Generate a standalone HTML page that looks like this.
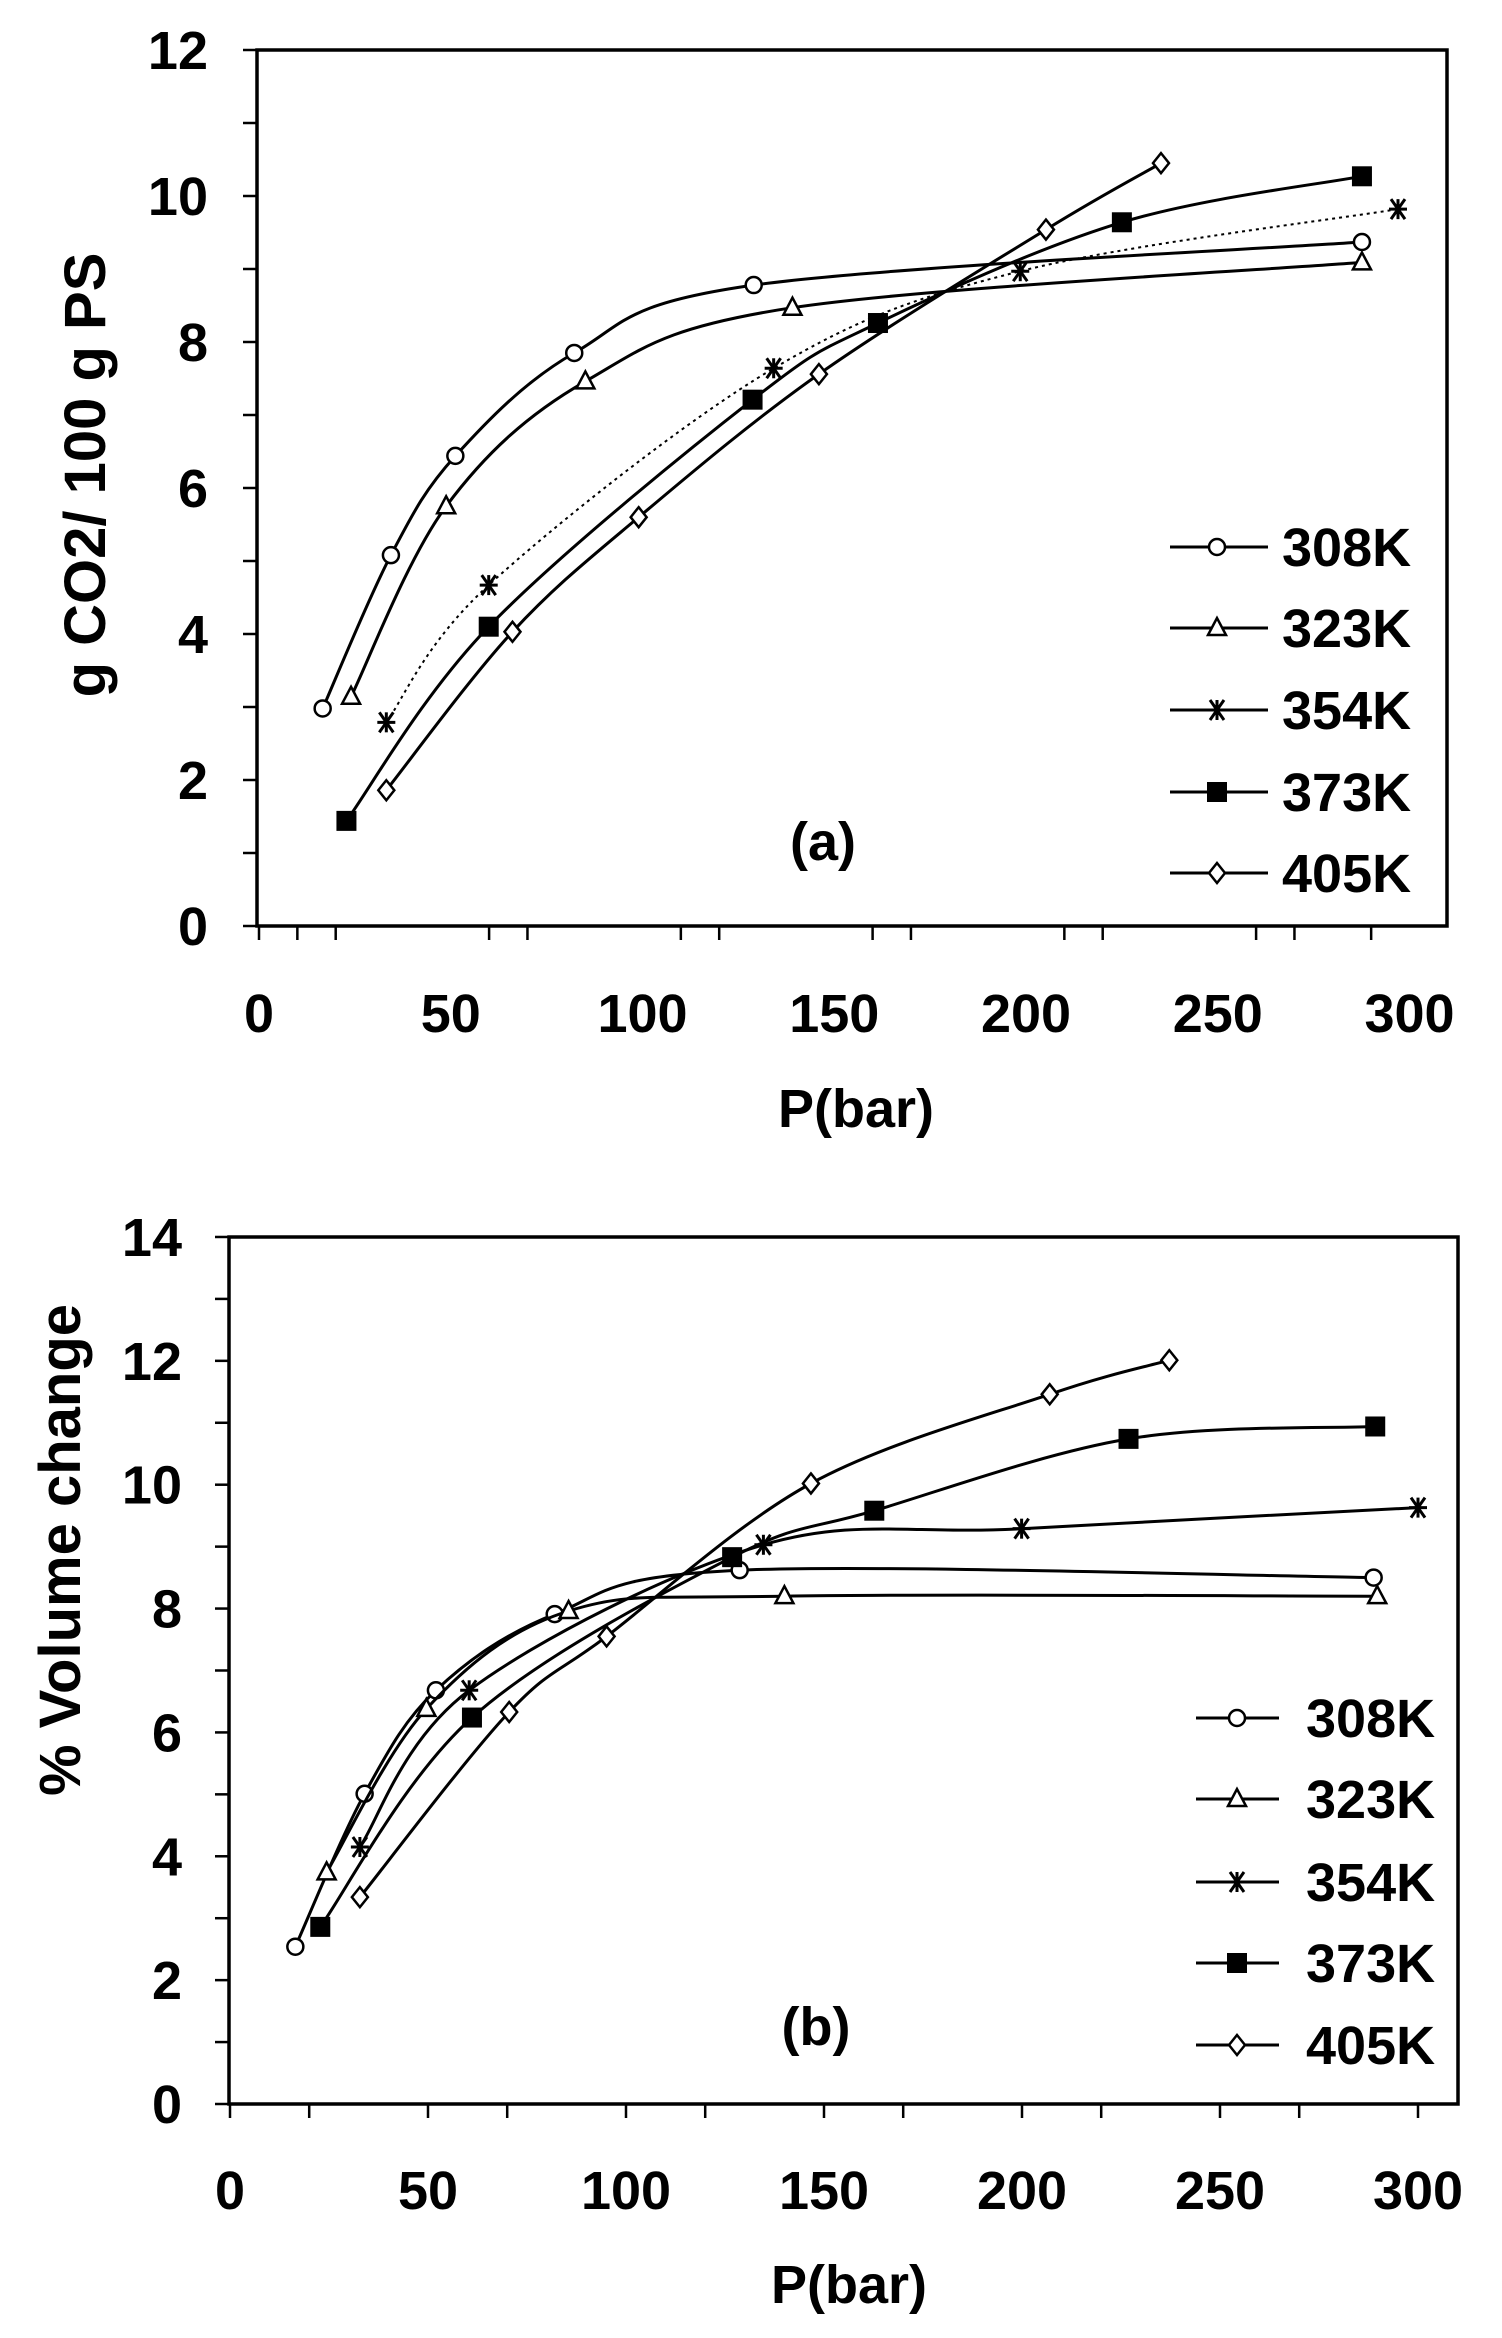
<!DOCTYPE html>
<html><head><meta charset="utf-8"><style>
html,body{margin:0;padding:0;background:#fff;}
svg{display:block;}
text{font-family:"Liberation Sans",Arial,sans-serif;font-weight:bold;fill:#000;}
</style></head><body>
<svg id="s" xmlns="http://www.w3.org/2000/svg" width="1502" height="2338" viewBox="0 0 1502 2338"></svg>
<script>
const S=document.getElementById('s');let out='';
function catmull(pts){let d='M'+pts[0][0].toFixed(1)+','+pts[0][1].toFixed(1);
for(let i=0;i<pts.length-1;i++){const p0=pts[Math.max(0,i-1)],p1=pts[i],p2=pts[i+1],p3=pts[Math.min(pts.length-1,i+2)];
const t=1/6;d+=' C'+(p1[0]+(p2[0]-p0[0])*t).toFixed(1)+','+(p1[1]+(p2[1]-p0[1])*t).toFixed(1)+' '+(p2[0]-(p3[0]-p1[0])*t).toFixed(1)+','+(p2[1]-(p3[1]-p1[1])*t).toFixed(1)+' '+p2[0].toFixed(1)+','+p2[1].toFixed(1);}
return d;}
function marker(type,x,y){const r=8;
if(type=='o')return `<circle cx="${x}" cy="${y}" r="${r}" fill="#fff" stroke="#000" stroke-width="2.5"/>`;
if(type=='t')return `<polygon points="${x},${y-r-2} ${x-r-1},${y+r-1} ${x+r+1},${y+r-1}" fill="#fff" stroke="#000" stroke-width="2.5"/>`;
if(type=='s')return `<rect x="${x-10}" y="${y-10}" width="20" height="20" fill="#000"/>`;
if(type=='d')return `<polygon points="${x},${y-10} ${x+8},${y} ${x},${y+10} ${x-8},${y}" fill="#fff" stroke="#000" stroke-width="2.5"/>`;
if(type=='x')return `<g stroke="#000" stroke-width="3"><line x1="${x-9}" y1="${y}" x2="${x+9}" y2="${y}"/><line x1="${x-7}" y1="${y-10}" x2="${x+7}" y2="${y+10}"/><line x1="${x+7}" y1="${y-10}" x2="${x-7}" y2="${y+10}"/><line x1="${x}" y1="${y-10}" x2="${x}" y2="${y+10}"/></g>`;}
function plot(cfg){
 const X=p=>cfg.x0+p*cfg.xs, Y=v=>cfg.y0-v*cfg.ys;
 out+=`<rect x="${cfg.L}" y="${cfg.T}" width="${cfg.R-cfg.L}" height="${cfg.B-cfg.T}" fill="none" stroke="#000" stroke-width="3.5"/>`;
 for(let v=0;v<=cfg.ymax;v++){const y=Y(v);
  out+=`<line x1="${cfg.L-14}" y1="${y}" x2="${cfg.L}" y2="${y}" stroke="#000" stroke-width="2.5"/>`;
  if(v%2==0)out+=`<text x="${cfg.ylx}" y="${y+19}" font-size="54" text-anchor="end">${v}</text>`;}
 for(const p of cfg.xt){out+=`<line x1="${X(p)}" y1="${cfg.B}" x2="${X(p)}" y2="${cfg.B+14}" stroke="#000" stroke-width="2.5"/>`;}
 for(let p=0;p<=300;p+=50)out+=`<text x="${X(p)}" y="${cfg.xly+19}" font-size="54" text-anchor="middle">${p}</text>`;
 out+=`<text x="${cfg.xlab[0]}" y="${cfg.xlab[1]+19}" font-size="54" text-anchor="middle">P(bar)</text>`;
 out+=`<text transform="translate(${cfg.ylab[0]},${cfg.ylab[1]}) rotate(-90)" font-size="58" text-anchor="middle">${cfg.ylabT}</text>`;
 out+=`<text x="${cfg.lab[0]}" y="${cfg.lab[1]+19}" font-size="54" text-anchor="middle">${cfg.lab[2]}</text>`;
 const types=['o','t','x','s','d'],names=['308K','323K','354K','373K','405K'];
 cfg.series.forEach((s,i)=>{const pts=s.map(q=>[X(q[0]),Y(q[1])]);
  out+=`<path d="${catmull(pts)}" fill="none" stroke="#000" stroke-width="${i==2&&cfg.dot?2:3}" ${i==2&&cfg.dot?'stroke-dasharray="3,4"':''}/>`;
  pts.forEach(p=>out+=marker(types[i],p[0],p[1]));
  const ly=cfg.leg.rows[i];
  out+=`<line x1="${cfg.leg.l1}" y1="${ly}" x2="${cfg.leg.l2}" y2="${ly}" stroke="#000" stroke-width="3"/>`+marker(types[i],cfg.leg.m,ly);
  out+=`<text x="${cfg.leg.t}" y="${ly+19}" font-size="54">${names[i]}</text>`;});
}
plot({L:257,T:50,R:1447,B:926,x0:259,xs:3.835,y0:926,ys:73,ymax:12,ylx:208,xly:1013,
 xt:[0,10,20,60,70,110,120,160,170,210,220,260,270,290],
 xlab:[856,1108],ylab:[105,475],ylabT:'g CO2/ 100 g PS',lab:[823,841,'(a)'],dot:true,
 leg:{l1:1170,l2:1268,m:1217,t:1282,rows:[547,628,710,792,873]},
 series:[
 [[16.6,2.98],[34.4,5.08],[51.2,6.44],[82.2,7.85],[129,8.78],[287.6,9.37]],
 [[24,3.14],[48.8,5.75],[85.1,7.46],[139.1,8.47],[287.6,9.09]],
 [[33.2,2.79],[59.9,4.67],[134.2,7.64],[198.5,8.97],[297,9.82]],
 [[22.8,1.44],[59.9,4.10],[128.7,7.21],[161.4,8.26],[225,9.64],[287.6,10.27]],
 [[33.2,1.86],[66.1,4.03],[99,5.60],[146,7.56],[205.2,9.54],[235.2,10.45]]]});
plot({L:229,T:1237,R:1458,B:2104,x0:230,xs:3.96,y0:2104,ys:61.93,ymax:14,ylx:182,xly:2190,
 xt:[0,20,50,70,100,120,150,170,200,220,250,270,300],
 xlab:[849,2284],ylab:[80,1550],ylabT:'% Volume change',lab:[816,2026,'(b)'],dot:false,
 leg:{l1:1196,l2:1279,m:1237,t:1306,rows:[1718,1799,1882,1963,2045]},
 series:[
 [[16.5,2.54],[34,5.01],[52,6.68],[82,7.91],[128.7,8.62],[288.8,8.50]],
 [[24.4,3.74],[49.6,6.38],[85.5,7.96],[140,8.20],[289.7,8.20]],
 [[32.8,4.15],[60.4,6.68],[134.7,9.03],[199.9,9.29],[300,9.63]],
 [[22.8,2.86],[61.1,6.24],[126.8,8.83],[162.7,9.58],[226.9,10.74],[289.2,10.94]],
 [[32.8,3.34],[70.5,6.33],[95.1,7.55],[146.7,10.02],[207,11.46],[237.2,12.01]]]});
S.innerHTML=out;
</script>
</body></html>
